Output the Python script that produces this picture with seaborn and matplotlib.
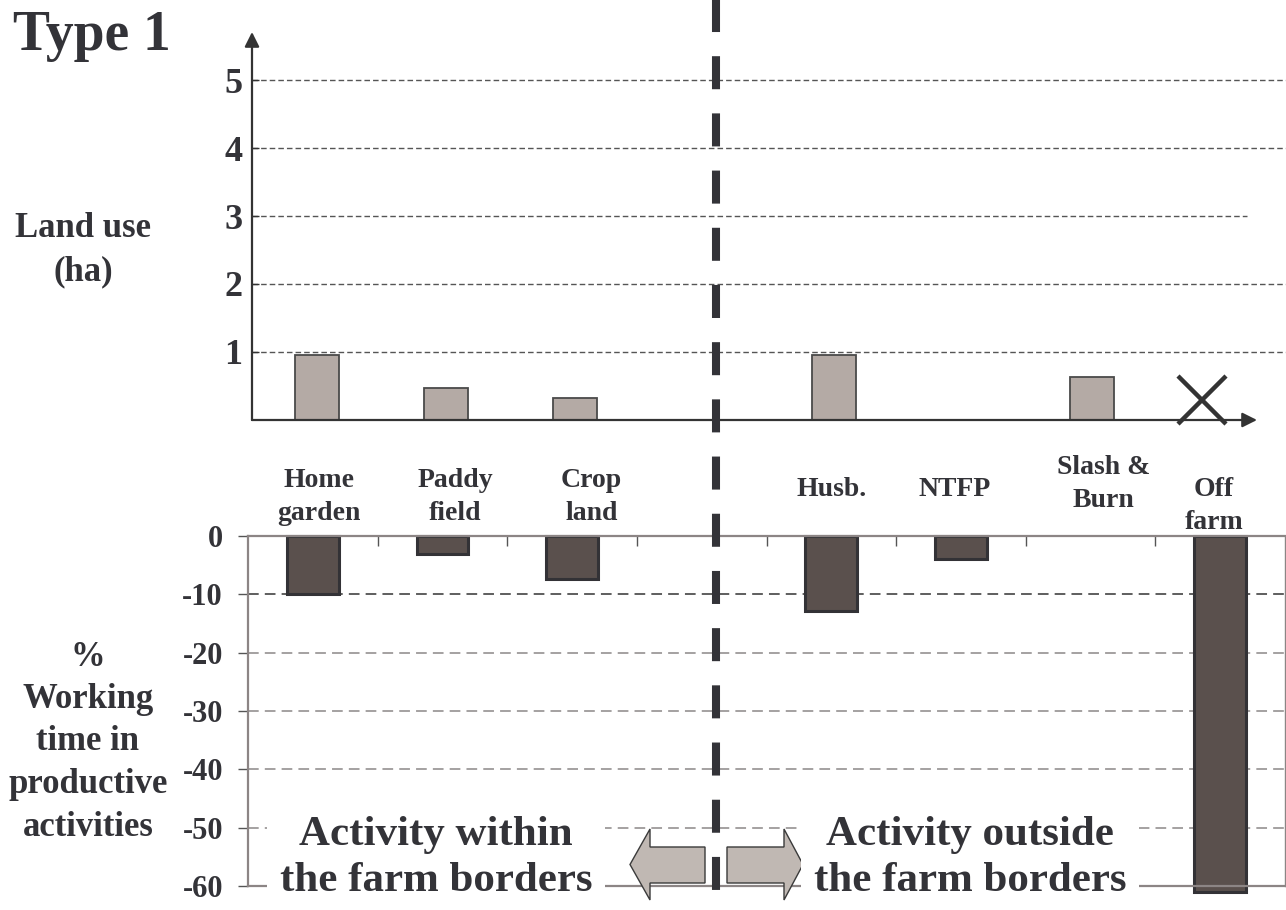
import numpy as np
import pandas as pd
import matplotlib
matplotlib.use("Agg")
import matplotlib.pyplot as plt
import matplotlib.transforms as mtransforms
from matplotlib.patches import Polygon
from matplotlib.lines import Line2D
import seaborn as sns

# ---------------- data ----------------
categories = ["Home\ngarden", "Paddy\nfield", "Crop\nland", " ",
              "Husb.", "NTFP", "Slash &\nBurn", "Off\nfarm"]
land_use_ha = [0.95, 0.47, 0.32, np.nan, 0.96, 0.0, 0.63, np.nan]
working_time_pct = [-10.0, -3.0, -7.4, np.nan, -12.9, -3.9, 0.0, -61.0]
land_not_applicable = ["Off\nfarm"]
top_yticks = [1, 2, 3, 4, 5]
bottom_yticks = [0, -10, -20, -30, -40, -50, -60]
title_text = "Type 1"
top_ylabel = "Land use\n(ha)"
bottom_ylabel = "%\nWorking\ntime in\nproductive\nactivities"
left_note = "Activity within\nthe farm borders"
right_note = "Activity outside\nthe farm borders"

df = pd.DataFrame({"category": categories,
                   "land_use": land_use_ha,
                   "work": working_time_pct})

# ---------------- style ----------------
sns.set_theme(style="white")
plt.rcParams["font.family"] = ["Liberation Serif", "DejaVu Serif"]
plt.rcParams["font.weight"] = "bold"
plt.rcParams["axes.unicode_minus"] = False
TXT = "#333338"
W, H = 1286, 910

fig = plt.figure(figsize=(W / 100, H / 100), dpi=100)
fig.patch.set_facecolor("white")

def px_axes(x0, y0, x1, y1):
    return fig.add_axes([x0 / W, 1 - y1 / H, (x1 - x0) / W, (y1 - y0) / H])

# ---------------- top panel: land use ----------------
ax_t = px_axes(252, 32, 1286, 420)
sns.barplot(data=df, x="category", y="land_use", order=categories, ax=ax_t,
            color="#b4aaa5", edgecolor="#4a4a4a", linewidth=1.3,
            width=0.34, errorbar=None, saturation=1)
ax_t.set_ylim(0, 388 / 68)
ax_t.set_xlim(-0.5, len(categories) - 0.5)
for p in ax_t.patches:
    if p.get_height() == 0:
        p.set_visible(False)
for v in top_yticks:
    xmax = 0.962 if v == 3 else 1.0
    ax_t.axhline(v, xmin=0, xmax=xmax, color="#555555", lw=1.0,
                 ls=(0, (4, 2.2)), zorder=0.5)
for s in ax_t.spines.values():
    s.set_visible(False)
ax_t.set_yticks(top_yticks)
ax_t.set_yticklabels([str(v) for v in top_yticks])
ax_t.tick_params(axis="y", direction="in", length=5, width=1, color="#333333",
                 labelsize=26, labelcolor=TXT, pad=7, left=True)
ax_t.set_xticks([])
ax_t.set_xlabel("")
ax_t.set_ylabel("")
for lab in ax_t.get_yticklabels():
    lab.set_fontweight("bold")
# axis arrows
ax_t.annotate("", xy=(0, 1), xytext=(0, 0), xycoords="axes fraction",
              arrowprops=dict(arrowstyle="-|>", color="#333333", lw=1.6,
                              mutation_scale=22, shrinkA=0, shrinkB=0))
ax_t.annotate("", xy=((1257 - 252) / (1286 - 252), 0), xytext=(0, 0),
              xycoords="axes fraction",
              arrowprops=dict(arrowstyle="-|>", color="#333333", lw=1.6,
                              mutation_scale=22, shrinkA=0, shrinkB=0))
# not applicable marker
for cat in land_not_applicable:
    ax_t.plot(categories.index(cat) - 0.15, 0.3, marker="x", markersize=34,
              markeredgewidth=3.2, color="#333333", clip_on=False)

# ---------------- bottom panel: working time ----------------
ax_b = px_axes(248, 536, 1285, 886)
sns.barplot(data=df, x="category", y="work", order=categories, ax=ax_b,
            color="#5a504d", edgecolor="#333236", linewidth=2.2,
            width=0.4, errorbar=None, saturation=1)
ax_b.set_ylim(-60, 0)
ax_b.set_xlim(-0.5, len(categories) - 0.5)
for p in ax_b.patches:
    p.set_clip_on(False)
    if p.get_height() == 0:
        p.set_visible(False)
for v in bottom_yticks[1:-1]:
    col = "#333333" if v == -10 else "#8c8888"
    ax_b.axhline(v, color=col, lw=1.1, ls=(0, (7, 4)), zorder=0.5)
for s in ax_b.spines.values():
    s.set_color("#8c8585")
    s.set_linewidth(1.6)
ax_b.spines["right"].set_linewidth(1.0)
ax_b.set_yticks(bottom_yticks)
ax_b.set_yticklabels([str(v) for v in bottom_yticks])
ax_b.tick_params(axis="y", direction="out", length=7, width=1, color="#555555",
                 labelsize=22, labelcolor=TXT, pad=11, left=True)
for lab in ax_b.get_yticklabels():
    lab.set_fontweight("bold")
ax_b.set_xticks(range(len(categories)))
ax_b.set_xticks(np.arange(0.5, len(categories) - 1, 1.0), minor=True)
ax_b.tick_params(axis="x", which="major", length=0, labelbottom=False)
ax_b.tick_params(axis="x", which="minor", top=True, bottom=False,
                 direction="in", length=7, width=1, color="#555555")
ax_b.set_xlabel("")
ax_b.set_ylabel("")

# ---------------- overlay (annotations) ----------------
ov = fig.add_axes([0, 0, 1, 1], zorder=10)
ov.set_xlim(0, W)
ov.set_ylim(H, 0)
ov.axis("off")
ov.patch.set_alpha(0)

ov.text(13, 50, title_text, fontsize=40, fontweight="bold", color=TXT,
        ha="left", va="baseline")
ov.text(83, 250, top_ylabel, fontsize=25, fontweight="bold", color=TXT,
        ha="center", va="center", linespacing=1.4)
ov.text(88, 742, bottom_ylabel, fontsize=25, fontweight="bold", color=TXT,
        ha="center", va="center", linespacing=1.38)

# category labels between the panels
blend = mtransforms.blended_transform_factory(ax_b.transData, ov.transData)
label_centers = [497, 497, 497, 497, 490, 490, 484, 506]
label_shift = [0.05, 0.1, 0.15, 0, 0.0, -0.05, 0.1, -0.05]
for i, cat in enumerate(categories):
    if cat.strip():
        ov.text(i + label_shift[i], label_centers[i], cat, transform=blend,
                fontsize=20, fontweight="bold", color=TXT, ha="center",
                va="center", linespacing=1.42)

# notes with white background
box = dict(boxstyle="square,pad=0.3", facecolor="white", edgecolor="none")
ov.text(436, 858, left_note, fontsize=31, fontweight="bold", color=TXT,
        ha="center", va="center", linespacing=1.28, bbox=box)
ov.text(970, 858, right_note, fontsize=31, fontweight="bold", color=TXT,
        ha="center", va="center", linespacing=1.28, bbox=box)

# arrows
arrow_kw = dict(closed=True, facecolor="#c0b8b3", edgecolor="#3a3a3a", lw=1.0)
ov.add_patch(Polygon([(705, 847), (650, 847), (650, 829), (630, 864.5),
                      (650, 900), (650, 883), (705, 883)], **arrow_kw))
ov.add_patch(Polygon([(727, 847), (784, 847), (784, 829), (803, 864.5),
                      (784, 900), (784, 883), (727, 883)], **arrow_kw))

# separating dashed line
ov.add_line(Line2D([716, 716], [-37, 915], color="#333338", lw=5.8,
                   dashes=(4.1, 3.0), dash_capstyle="butt"))

fig.savefig("out.png", dpi=100, facecolor="white")
